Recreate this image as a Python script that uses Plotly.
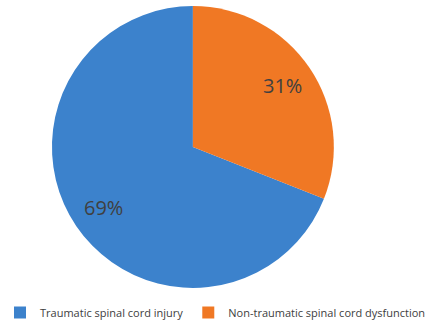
import math
import plotly.graph_objects as go

labels = ["Traumatic spinal cord injury", "Non-traumatic spinal cord dysfunction"]
values = [69, 31]
colors = ["#3C82CC", "#F07824"]

W, H = 433, 327
dom_x = [0.120, 0.771]
dom_y = [0.119, 0.982]
rotation = 111.6

fig = go.Figure(go.Pie(
    labels=labels,
    values=values,
    sort=False,
    direction="clockwise",
    rotation=rotation,
    marker=dict(colors=colors, line=dict(color="white", width=0)),
    textinfo="none",
    domain=dict(x=dom_x, y=dom_y),
    hoverinfo="skip",
))

# Percent labels placed at each slice's mid-angle, derived from the values
cx = (dom_x[0] + dom_x[1]) / 2 * W
cy = (dom_y[0] + dom_y[1]) / 2 * H
R = min((dom_x[1] - dom_x[0]) * W, (dom_y[1] - dom_y[0]) * H) / 2
total = sum(values)
start = 90 - rotation  # math convention (ccw from +x); slices run clockwise
annotations = []
for lab, v in zip(labels, values):
    span = v / total * 360
    mid = math.radians(start - span / 2)
    r = 0.77 * R
    x = (cx + r * math.cos(mid)) / W
    y = (cy + r * math.sin(mid)) / H
    annotations.append(dict(x=x, y=y, xref="paper", yref="paper",
                            xanchor="center", yanchor="middle",
                            text=f"{v}%", showarrow=False,
                            font=dict(size=20, color="#404040", family="Open Sans")))
    start -= span

fig.update_layout(
    width=W, height=H,
    margin=dict(l=0, r=0, t=0, b=0),
    paper_bgcolor="white",
    plot_bgcolor="white",
    font=dict(family="Open Sans", color="#404040", size=12),
    annotations=annotations,
    legend=dict(orientation="h", x=0.0, y=0.0, xanchor="left", yanchor="bottom",
                font=dict(size=11, color="#404040"), itemwidth=30,
                tracegroupgap=0),
    showlegend=True,
)

fig.write_html("out.html")
